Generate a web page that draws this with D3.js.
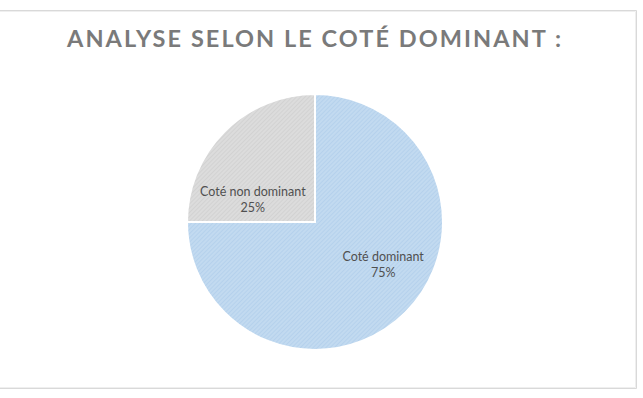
<!DOCTYPE html>
<html>
<head>
<meta charset="utf-8">
<script src="https://cdnjs.cloudflare.com/ajax/libs/d3/7.8.5/d3.min.js"></script>
<style>
  body { margin: 0; background: #fff; }
  svg { display: block; }
</style>
</head>
<body>
<script>
// chart data
let title = "ANALYSE SELON LE COTÉ DOMINANT :";
let categories = ["Coté dominant", "Coté non dominant"];
let values = [75, 25];
let percentLabels = ["75%", "25%"];

let width = 643, height = 398;
let cx = 315, cy = 222, radius = 128;

let svg = d3.select("body").append("svg")
    .attr("width", width)
    .attr("height", height);

// hatched fills, like the office "light upward diagonal" look
let defs = svg.append("defs");
let fills = [
    { id: "hatchBlue", base: "#c2daf0", line: "#a9c9e8" },
    { id: "hatchGray", base: "#dcdcdc", line: "#c8c8c8" }
];
fills.forEach(function(f) {
    let p = defs.append("pattern")
        .attr("id", f.id)
        .attr("patternUnits", "userSpaceOnUse")
        .attr("width", 3)
        .attr("height", 3)
        .attr("patternTransform", "rotate(45)");
    p.append("rect").attr("width", 3).attr("height", 3).attr("fill", f.base);
    p.append("line")
        .attr("x1", 0).attr("y1", 0).attr("x2", 0).attr("y2", 3)
        .attr("stroke", f.line).attr("stroke-width", 1);
});

// chart frame
let frame = svg.append("g").attr("fill", "none").attr("stroke", "#d9d9d9");
frame.append("path")
    .attr("d", "M0,10.5 H636.5 V388.5 H0")
    .attr("stroke-width", 1);
frame.append("path")
    .attr("d", "M0,11.5 H635.5 V387.5 H0")
    .attr("stroke", "#efefef");

// title
svg.append("text")
    .attr("x", 314)
    .attr("y", 47)
    .attr("text-anchor", "middle")
    .attr("textLength", 494)
    .attr("lengthAdjust", "spacing")
    .style("font-family", "Lato, 'Open Sans', sans-serif")
    .style("font-weight", "bold")
    .style("font-size", "23.5px")
    .style("fill", "#7a7a7a")
    .text(title);

// pie
let pie = d3.pie().sort(null).value(function(d) { return d; });
let arc = d3.arc().innerRadius(0).outerRadius(radius);
let colour = d3.scaleOrdinal()
    .domain(categories)
    .range(["url(#hatchBlue)", "url(#hatchGray)"]);

let arcs = pie(values);
let g = svg.append("g").attr("transform", "translate(" + cx + "," + cy + ")");

g.selectAll("path")
    .data(arcs)
    .enter()
    .append("path")
        .attr("d", arc)
        .attr("fill", function(d, i) { return colour(categories[i]); })
        .attr("stroke", "#ffffff")
        .attr("stroke-width", 2)
        .attr("stroke-linejoin", "miter");

// data labels, placed inside each slice
function labelPos(d, i) {
    // fraction along the slice and distance from centre (best-fit style)
    let frac = i === 0 ? 0.453 : 0.217;
    let r = i === 0 ? 0.63 * radius : 0.515 * radius;
    let a = d.startAngle + (d.endAngle - d.startAngle) * frac;
    return [Math.sin(a) * r, -Math.cos(a) * r];
}

let labels = g.selectAll("g.label")
    .data(arcs)
    .enter()
    .append("g")
        .attr("class", "label")
        .attr("transform", function(d, i) {
            let p = labelPos(d, i);
            return "translate(" + p[0] + "," + p[1] + ")";
        })
        .style("font-family", "Lato, 'Open Sans', sans-serif")
        .style("font-size", "12.5px")
        .style("fill", "#505050")
        .attr("text-anchor", "middle");

labels.append("text")
    .attr("y", -4)
    .text(function(d, i) { return categories[i]; });
labels.append("text")
    .attr("y", 12)
    .text(function(d, i) { return percentLabels[i]; });
</script>
</body>
</html>
